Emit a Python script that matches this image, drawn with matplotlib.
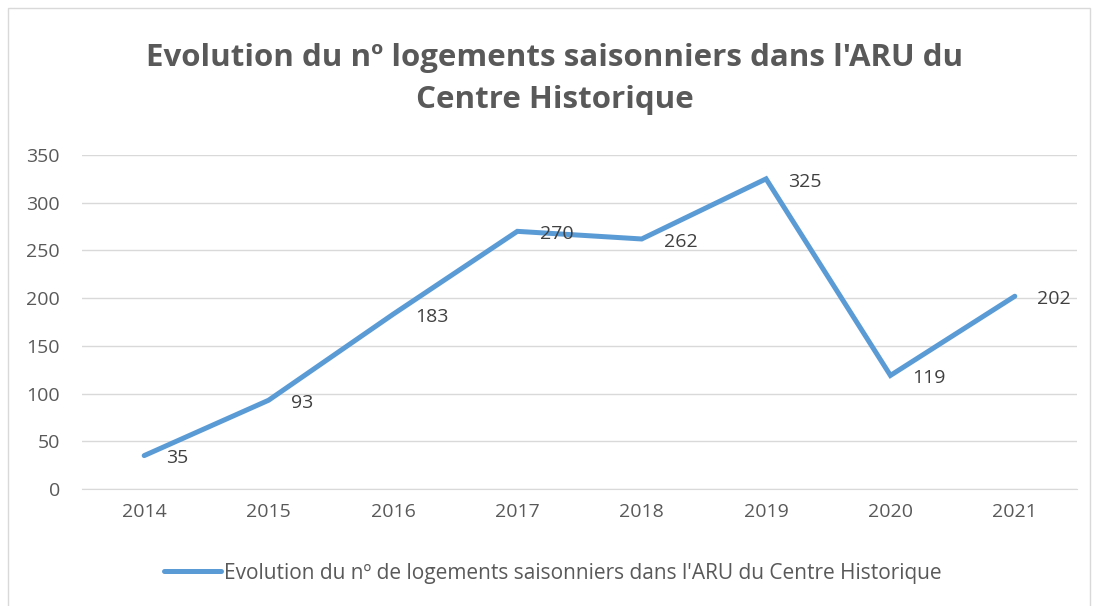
import matplotlib.pyplot as plt
from matplotlib.patches import Rectangle

years = ["2014", "2015", "2016", "2017", "2018", "2019", "2020", "2021"]
logements = [35, 93, 183, 270, 262, 325, 119, 202]

title = "Evolution du nº logements saisonniers dans l'ARU du\nCentre Historique"
serie = "Evolution du nº de logements saisonniers dans l'ARU du Centre Historique"

plt.rcParams['font.family'] = ['Open Sans', 'DejaVu Sans']
text_col = '#595959'
line_col = '#5B9BD5'

fig = plt.figure(figsize=(10.94, 6.06), dpi=100)
ax = fig.add_axes([82/1094, 1 - 489/606, (1077-82)/1094, (489-155)/606])

x = list(range(len(years)))
ax.plot(x, logements, color=line_col, linewidth=3.6, solid_capstyle='round',
        solid_joinstyle='miter', label=serie)
for xi, v in zip(x, logements):
    ax.annotate(str(v), (xi, v), xytext=(16, -2), textcoords='offset points',
                ha='left', va='center', fontsize=14, color='#404040')

ax.set_xlim(-0.5, len(years) - 0.5)
ax.set_ylim(0, 350)
ax.set_yticks(range(0, 351, 50))
ax.set_xticks(x)
ax.set_xticklabels(years)
ax.tick_params(axis='both', length=0, labelsize=14, labelcolor=text_col, pad=10)
ax.tick_params(axis='y', pad=16)
ax.grid(axis='y', color='#D9D9D9', linewidth=1)
ax.set_axisbelow(True)
for s in ['top', 'right', 'left']:
    ax.spines[s].set_visible(False)
ax.spines['bottom'].set_color('#D9D9D9')

fig.text(555/1094, 1 - 79/606, title, ha='center', va='center', fontsize=22.5,
         fontweight='bold', color=text_col, linespacing=1.5)

fig.legend(loc='center', bbox_to_anchor=(553/1094, 1 - 573/606), frameon=False,
           fontsize=15, labelcolor=text_col, handlelength=2.7, handletextpad=0.15)

fig.patches.append(Rectangle((8/1094, -0.01), (1090-8)/1094, 1 - 8/606 + 0.01,
                             transform=fig.transFigure, fill=False,
                             edgecolor='#D9D9D9', linewidth=1))

fig.savefig('out.png', dpi=100)
